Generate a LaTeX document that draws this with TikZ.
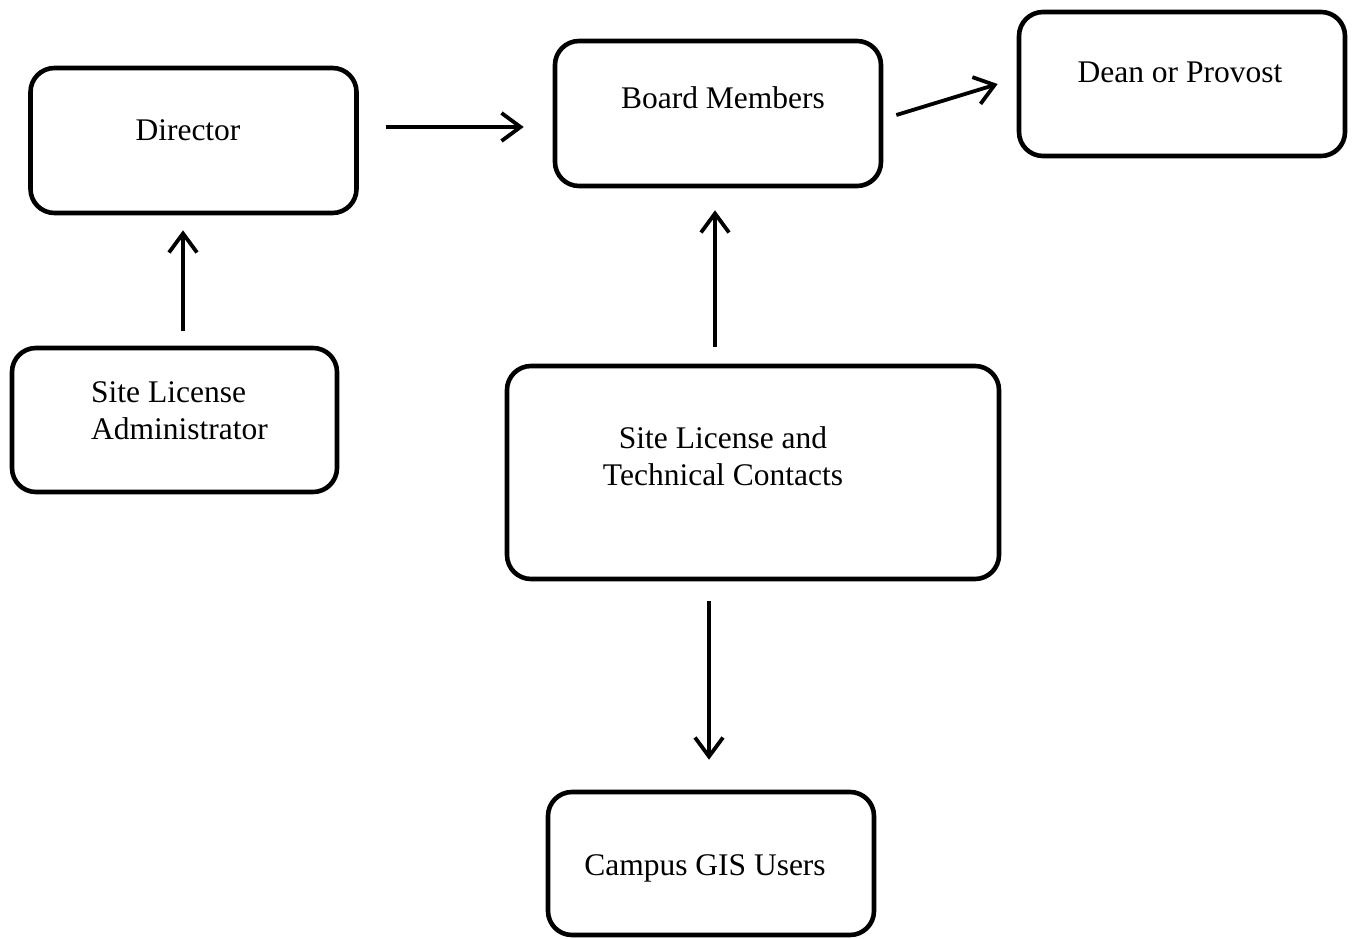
\documentclass[tikz,border=0pt]{standalone}
\usepackage{fontspec}
\setmainfont{Liberation Serif}
\usetikzlibrary{arrows.meta}
\begin{document}
\begin{tikzpicture}[x=1pt,y=-1pt,
  box/.style={draw, line width=4.6pt, rounded corners=24pt, minimum width=326pt, inner sep=0pt},
  lbl/.style={font=\fontsize{31.5}{37}\selectfont, inner sep=0pt, anchor=base},
  arr/.style={line width=3.8pt, -{Straight Barb[length=19pt,width=28pt,line width=3.8pt]}}]
\useasboundingbox (0,0) rectangle (1357,939);
% boxes
\node[box, minimum height=145pt] (dir) at (193.5,140.5) {};
\node[box, minimum height=145pt] (bm) at (718,113.5) {};
\node[box, minimum height=144pt] (dean) at (1182,84) {};
\node[box, minimum height=144pt, minimum width=325pt] (sla) at (174.5,420) {};
\node[box, minimum height=213pt, minimum width=492pt] (sltc) at (753,472.5) {};
\node[box, minimum height=143pt] (cgu) at (711,863.5) {};
% labels
\node[lbl] (tdir) at (188,140) {Director};
\node[lbl] (tbm) at (723,109) {Board Members};
\node[lbl] (tdean) at (1180,83) {Dean or Provost};
\node[lbl, anchor=base west, align=left] (tsla) at (91,439) {Site License\\Administrator};
\node[lbl, align=center] (tsltc) at (723,485) {Site License and\\Technical Contacts};
\node[lbl] (tcgu) at (705,875) {Campus GIS Users};
% connectors
\draw[arr, shorten <=27pt, shorten >=29pt] (dir.east |- 0,127) -- (bm.west |- 0,127);
\draw[arr, shorten <=13.6pt, shorten >=19.9pt] (bm.east |- 0,119) -- (dean.west |- 0,78.2);
\draw[arr, shorten <=15pt, shorten >=15pt] (sla.north -| 183,0) -- (dir.south -| 183,0);
\draw[arr, shorten <=17pt, shorten >=22pt] (sltc.north -| 715,0) -- (bm.south -| 715,0);
\draw[arr, shorten <=20pt, shorten >=30pt] (sltc.south -| 709,0) -- (cgu.north -| 709,0);
\end{tikzpicture}
\end{document}
